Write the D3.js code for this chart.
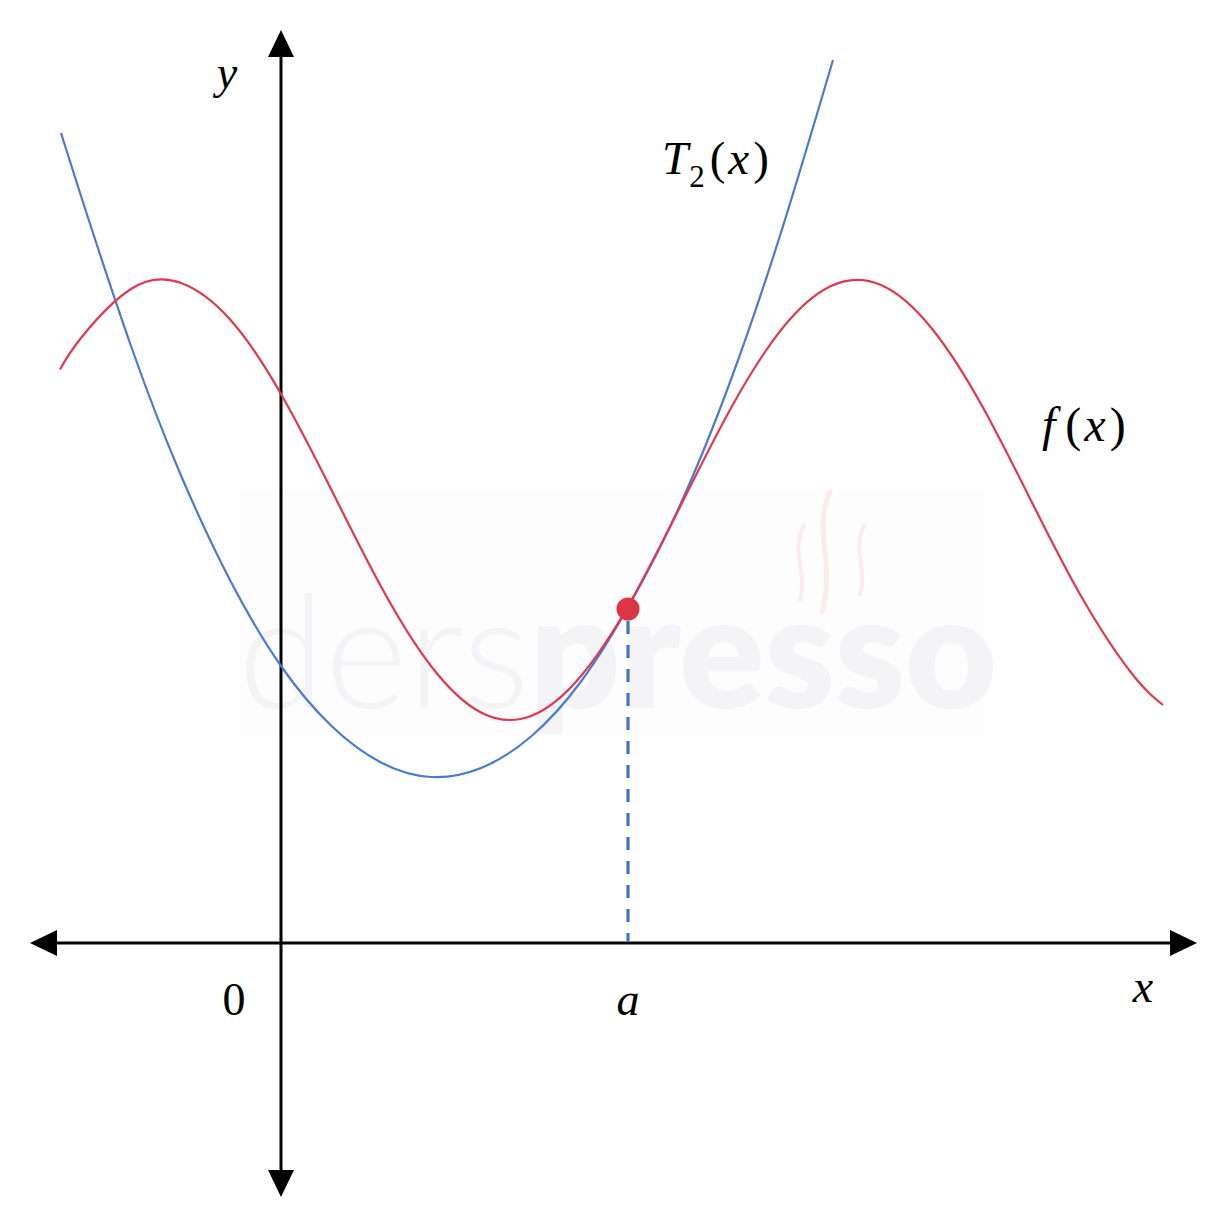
<!DOCTYPE html>
<html><head><meta charset="utf-8">
<script src="https://cdn.jsdelivr.net/npm/d3@7"></script>
<style>html,body{margin:0;padding:0;background:#fff;}svg{display:block;}</style>
</head><body>
<script>
// ---- data ----
const fX = [-4.42, -4, -3, -2, -1, 0, 1, 2, 3, 4, 5, 6, 7, 8, 9, 10, 11, 12, 13, 14, 15, 16, 17, 17.64];
const fY = [11.47, 12.10, 13.08, 13.20, 12.45, 10.98, 9.08, 7.13, 5.54, 4.61, 4.54, 5.34, 6.84, 8.76, 10.70, 12.26, 13.14, 13.16, 12.31, 10.78, 8.85, 6.94, 5.41, 4.76];
const tX = [-4.40, -4, -3, -2, -1, 0, 1, 2, 3, 4, 5, 6, 7, 8, 9, 10, 11.04];
const tY = [16.20, 14.94, 11.94, 9.35, 7.22, 5.54, 4.35, 3.61, 3.32, 3.50, 4.13, 5.23, 6.82, 8.80, 11.27, 14.21, 17.66];
const pointA = [6.94, 6.68];
const xAxisExtent = [-5.02, 18.32];
const yAxisExtent = [-5.08, 18.26];
const tickLabels = [{x: 0, t: "0"}, {x: 6.94, t: "a"}];

const W = 1226, H = 1226;
const x = d3.scaleLinear().domain([-5, 18]).range([31, 1181]);
const y = d3.scaleLinear().domain([-5, 18]).range([1193, 43]);

const svg = d3.select("body").append("svg").attr("width", W).attr("height", H);

// watermark
const wm = svg.append("g");
wm.append("rect").attr("x", 240).attr("y", 490).attr("width", 746).attr("height", 246).attr("fill", "#fdfdfd");
const wt = wm.append("text").attr("x", 238).attr("y", 708).attr("font-family", "Lato, 'Open Sans', sans-serif").attr("font-size", 158).attr("fill", "#f4f4f7");
wt.append("tspan").attr("font-weight", 300).text("ders");
wt.append("tspan").attr("font-weight", 800).text("presso");
const steam = [["M804,525 C790,555 808,570 800,600", 4], ["M830,492 C812,530 836,560 822,612", 5], ["M864,525 C852,550 868,570 860,595", 4]];
steam.forEach(s => wm.append("path").attr("d", s[0]).attr("fill", "none").attr("stroke", "#fbecea").attr("stroke-width", s[1]).attr("stroke-linecap", "round"));

// axes
const axisG = svg.append("g").attr("stroke", "#000").attr("fill", "#000");
const ox = x(0), oy = y(0);
axisG.append("line").attr("x1", x(xAxisExtent[0]) + 20).attr("x2", x(xAxisExtent[1]) - 20).attr("y1", oy).attr("y2", oy).attr("stroke-width", 3);
axisG.append("line").attr("y1", y(yAxisExtent[1]) + 20).attr("y2", y(yAxisExtent[0]) - 20).attr("x1", ox).attr("x2", ox).attr("stroke-width", 3);
const L = 27, Hw = 13;
function tri(tx, ty, dx, dy) {
  const bx = tx - dx * L, by = ty - dy * L;
  const px = -dy, py = dx;
  return `M${tx},${ty}L${bx + px * Hw},${by + py * Hw}L${bx - px * Hw},${by - py * Hw}Z`;
}
axisG.append("path").attr("stroke", "none").attr("d", tri(x(xAxisExtent[1]), oy, 1, 0));
axisG.append("path").attr("stroke", "none").attr("d", tri(x(xAxisExtent[0]), oy, -1, 0));
axisG.append("path").attr("stroke", "none").attr("d", tri(ox, y(yAxisExtent[1]), 0, -1));
axisG.append("path").attr("stroke", "none").attr("d", tri(ox, y(yAxisExtent[0]), 0, 1));

// curves
const line = d3.line().x(d => x(d[0])).y(d => y(d[1])).curve(d3.curveNatural);
svg.append("path").attr("d", line(tX.map((v, i) => [v, tY[i]])))
  .attr("fill", "none").attr("stroke", "#4a7bd0").attr("stroke-width", 2.2);
svg.append("path").attr("d", line(fX.map((v, i) => [v, fY[i]])))
  .attr("fill", "none").attr("stroke", "#e0384e").attr("stroke-width", 2.2);

// dashed drop line and point
svg.append("line").attr("x1", x(pointA[0])).attr("x2", x(pointA[0]))
  .attr("y1", y(pointA[1]) + 12).attr("y2", oy - 1.5)
  .attr("stroke", "#4472c4").attr("stroke-width", 3.2).attr("stroke-dasharray", "13,11");
svg.append("circle").attr("cx", x(pointA[0])).attr("cy", y(pointA[1])).attr("r", 11.5).attr("fill", "#dc3545");

// labels
const serif = "'Liberation Serif', 'DejaVu Serif', serif";
const lab = svg.append("g").attr("font-family", serif).attr("fill", "#000");
tickLabels.forEach(d => {
  lab.append("text").attr("x", d.t === "0" ? x(d.x) - 47 : x(d.x)).attr("y", 1015)
    .attr("text-anchor", "middle").attr("font-size", 46)
    .attr("font-style", d.t === "0" ? "normal" : "italic").text(d.t);
});
lab.append("text").attr("x", 1143).attr("y", 1002).attr("text-anchor", "middle").attr("font-size", 46).attr("font-style", "italic").text("x");
lab.append("text").attr("x", 227).attr("y", 88).attr("text-anchor", "middle").attr("font-size", 46).attr("font-style", "italic").text("y");

function fnLabel(x0, base, parts, size) {
  const t = lab.append("text").attr("x", x0).attr("y", base).attr("font-size", size);
  parts.forEach(p => {
    const s = t.append("tspan").text(p.s).attr("font-style", p.it ? "italic" : "normal");
    if (p.dx) s.attr("dx", p.dx);
    if (p.dy) s.attr("dy", p.dy);
    if (p.fs) s.attr("font-size", p.fs);
  });
}
fnLabel(662, 174, [
  {s: "T", it: true},
  {s: "2", fs: 31, dy: 13, dx: 1},
  {s: "(", dy: -13, dx: 5},
  {s: "x", it: true, dx: 3},
  {s: ")", dx: 4}
], 47);
fnLabel(1042, 441, [
  {s: "f", it: true},
  {s: "(", dx: 10},
  {s: "x", it: true, dx: 3},
  {s: ")", dx: 4}
], 48);
</script>
</body></html>
